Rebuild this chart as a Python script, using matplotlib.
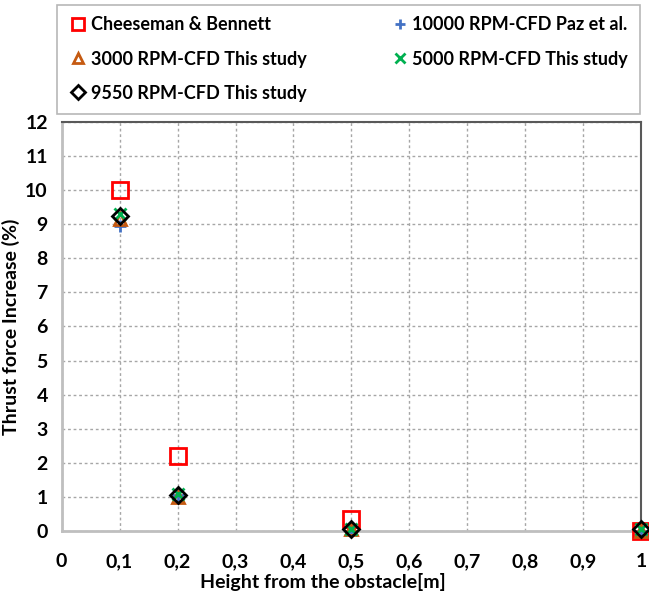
import numpy as np
import matplotlib.pyplot as plt

plt.rcParams['font.family'] = ['Lato', 'DejaVu Sans']
plt.rcParams['font.weight'] = 'bold'

heights = [0.1, 0.2, 0.5, 1.0]
cheeseman = [10.0, 2.2, 0.35, 0.0]
paz_10000 = [8.95, 1.05, 0.0, 0.0]
cfd_3000 = [9.15, 1.0, 0.05, 0.0]
cfd_5000 = [9.3, 1.1, 0.05, 0.05]
cfd_9550 = [9.25, 1.05, 0.05, 0.05]

xticks = np.arange(0, 11) / 10
xlabels = ['0'] + ['0,%d' % i for i in range(1, 10)] + ['1']

fig = plt.figure(figsize=(6.49, 5.94), dpi=100)
ax = fig.add_axes([0.095, 0.106, 0.893, 0.689])

h_ch, = ax.plot(heights, cheeseman, ls='none', marker='s', ms=11, mfc='none', mec='#ff0000', mew=2,
                label='Cheeseman & Bennett', clip_on=False, zorder=3)
h_paz, = ax.plot(heights, paz_10000, ls='none', marker='+', ms=9, mec='#4472c4', mew=2,
                 label='10000 RPM-CFD Paz et al.', clip_on=False, zorder=4)
h_3000, = ax.plot(heights, cfd_3000, ls='none', marker='^', ms=9, mfc='none', mec='#c55a11', mew=2,
                  label='3000 RPM-CFD This study', clip_on=False, zorder=4)
h_5000, = ax.plot(heights, cfd_5000, ls='none', marker='x', ms=8, mec='#00b050', mew=2,
                  label='5000 RPM-CFD This study', clip_on=False, zorder=5)
h_9550, = ax.plot(heights, cfd_9550, ls='none', marker='D', ms=8, mfc='none', mec='black', mew=2,
                  label='9550 RPM-CFD This study', clip_on=False, zorder=6)

ax.set_xlim(0, 1)
ax.set_ylim(0, 12)
ax.set_xticks(xticks)
ax.set_xticklabels(xlabels)
ax.set_yticks(range(0, 13))
ax.tick_params(length=0, labelsize=14)
ax.tick_params(axis='x', pad=16)
ax.tick_params(axis='y', pad=10)
for lab in ax.get_xticklabels() + ax.get_yticklabels():
    lab.set_fontweight('bold')
ax.grid(True, ls=(0, (2, 2)), color='#a6a6a6', lw=1)
ax.set_axisbelow(True)

ax.spines['left'].set_color('#bfbfbf')
ax.spines['bottom'].set_color('#bfbfbf')
ax.spines['left'].set_linewidth(2)
ax.spines['bottom'].set_linewidth(2)
ax.spines['top'].set_color('#595959')
ax.spines['right'].set_color('#595959')
ax.spines['top'].set_linewidth(1.5)
ax.spines['right'].set_linewidth(1.5)

ax.set_xlabel('Height from the obstacle[m]', fontsize=14, fontweight='bold')
ax.set_ylabel('Thrust force Increase (%)', fontsize=14, fontweight='bold')
ax.xaxis.label.set_va('center')
ax.xaxis.set_label_coords(0.451, -0.125)
ax.yaxis.set_label_coords(-0.072, 0.5)

# column-major fill -> reorder so rows read like the reference
handles = [h_ch, h_3000, h_9550, h_paz, h_5000]
leg = fig.legend(handles=handles, labels=[h.get_label() for h in handles],
                 loc='upper left', bbox_to_anchor=(0.088, 0.992, 0.898, 0.0), mode='expand',
                 ncol=2, fontsize=13, frameon=True, fancybox=False, handletextpad=0.2,
                 handlelength=1.0, borderpad=0.65, labelspacing=0.95, columnspacing=1.0,
                 borderaxespad=0, markerscale=0.85)
leg.get_frame().set_edgecolor('#a6a6a6')
leg.get_frame().set_linewidth(1.2)
for t in leg.get_texts():
    t.set_fontweight('bold')

fig.savefig('out.png', dpi=100)
